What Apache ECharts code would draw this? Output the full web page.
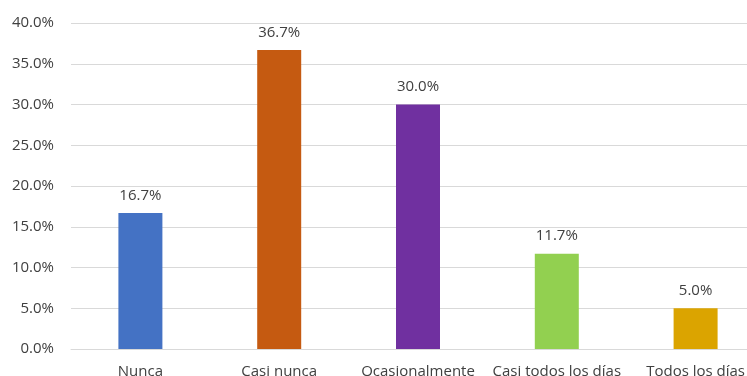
<!DOCTYPE html>
<html>
<head>
<meta charset="utf-8">
<script src="https://cdn.jsdelivr.net/npm/echarts@6/dist/echarts.min.js"></script>
<style>
  html, body { margin: 0; padding: 0; background: #ffffff; overflow: hidden; }
  body { width: 747px; height: 376px; }
  /* drawing surface is a little wider than the page, so the last band is cut at the edge */
  #chart { width: 770px; height: 376px; }
</style>
</head>
<body>
<div id="chart"></div>
<script>
// Frequency categories and their shares (%)
const categories = ['Nunca', 'Casi nunca', 'Ocasionalmente', 'Casi todos los días', 'Todos los días'];
const shares = [16.7, 36.7, 30.0, 11.7, 5.0];
const barColors = ['#4472C4', '#C55A11', '#7030A0', '#92D050', '#DBA400'];
const yTicks = { min: 0, max: 40, interval: 5 };

const chart = echarts.init(document.getElementById('chart'), null, { renderer: 'canvas' });
const font = "'Open Sans', 'Noto Sans', sans-serif";

chart.setOption({
  animation: false,
  grid: { left: 71, top: 23, width: 694, height: 326, containLabel: false, outerBoundsMode: 'none' },
  xAxis: {
    type: 'category',
    data: categories,
    axisTick: { show: false },
    axisLine: { show: true, lineStyle: { color: '#D9D9D9', width: 1 } },
    axisLabel: { color: '#404040', fontSize: 15, fontFamily: font, margin: 15, interval: 0 }
  },
  yAxis: {
    type: 'value',
    min: yTicks.min,
    max: yTicks.max,
    interval: yTicks.interval,
    axisLine: { show: false },
    axisTick: { show: false },
    splitLine: { lineStyle: { color: '#D9D9D9', width: 1 } },
    axisLabel: {
      color: '#404040', fontSize: 15, fontFamily: font, margin: 17,
      formatter: v => v.toFixed(1) + '%'
    }
  },
  series: [{
    type: 'bar',
    barWidth: 44,
    data: shares.map((v, i) => ({ value: v, itemStyle: { color: barColors[i] } })),
    label: {
      show: true,
      position: 'top',
      distance: 10,
      color: '#404040',
      fontSize: 15,
      fontFamily: font,
      formatter: p => p.value.toFixed(1) + '%'
    }
  }]
});
</script>
</body>
</html>
